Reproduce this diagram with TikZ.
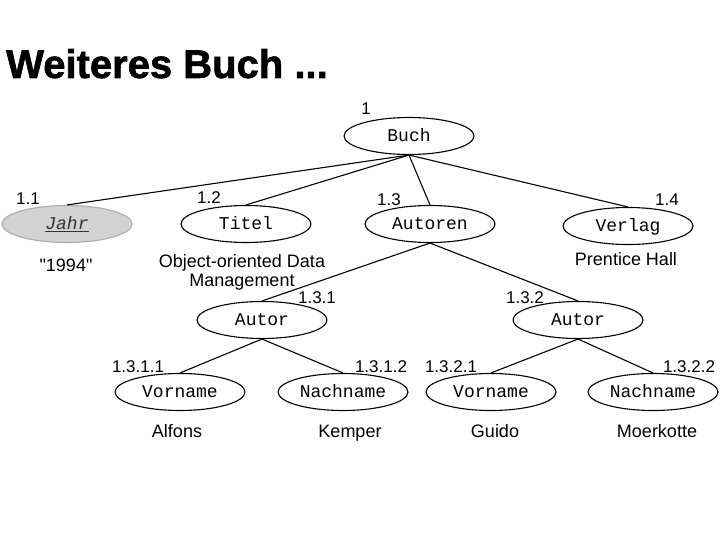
\documentclass[tikz,border=0pt]{standalone}
\usepackage{fontspec}
\setmainfont{Liberation Sans}
\setmonofont{Liberation Mono}
\newfontfamily\wertfont{Liberation Sans}
\usetikzlibrary{shapes.geometric}
\tikzset{
  elem/.style={ellipse, draw, line width=1.1pt, minimum width=130pt, minimum height=37pt, inner sep=0pt, text height=12pt, text depth=1pt, font=\fontsize{18}{20}\selectfont\ttfamily},
  attr/.style={elem, fill=gray!35, draw=gray!65, text=black!80},
  nr/.style={font=\fontsize{17}{19}\selectfont, anchor=base, inner sep=0pt},
  wert/.style={font=\fontsize{18}{19}\selectfont\wertfont, align=center, anchor=base, inner sep=0pt},
  kante/.style={line width=1.1pt},
}
\begin{document}
\begin{tikzpicture}[x=1pt, y=-1pt]
    \useasboundingbox (0,0) rectangle (720,540);
    \node[anchor=base west, inner sep=0pt, font=\fontsize{40}{44}\selectfont\bfseries\addfontfeature{FakeBold=1.5}] (titel) at (6,78) {Weiteres Buch ...};
    % Elemente
    \node[elem] (buch) at (409,136) {Buch};
    \node[attr] (jahr) at (67,224) {\underline{\textit{Jahr}}};
    \node[elem] (tit) at (246,224) {Titel};
    \node[elem] (autoren) at (430,224) {Autoren};
    \node[elem] (verlag) at (628,226) {Verlag};
    \node[elem] (autor1) at (262,320) {Autor};
    \node[elem] (autor2) at (578,320) {Autor};
    \node[elem] (vn1) at (180,392) {Vorname};
    \node[elem] (nn1) at (343,392) {Nachname};
    \node[elem] (vn2) at (491,392) {Vorname};
    \node[elem] (nn2) at (653,392) {Nachname};
    % Kanten
    \draw[kante] (buch.south) -- (jahr.north);
    \draw[kante] (buch.south) -- (tit.north);
    \draw[kante] (buch.south) -- (autoren.north);
    \draw[kante] (buch.south) -- (verlag.north);
    \draw[kante] (autoren.south) -- (autor1.north);
    \draw[kante] (autoren.south) -- (autor2.north);
    \draw[kante] (autor1.south) -- (vn1.north);
    \draw[kante] (autor1.south) -- (nn1.north);
    \draw[kante] (autor2.south) -- (vn2.north);
    \draw[kante] (autor2.south) -- (nn2.north);
    % Nummern
    \node[nr] (n1) at (366,115) {1};
    \node[nr] (n11) at (28,205) {1.1};
    \node[nr] (n12) at (209,204) {1.2};
    \node[nr] (n13) at (389,206) {1.3};
    \node[nr] (n14) at (667,206) {1.4};
    \node[nr] (n131) at (317,303) {1.3.1};
    \node[nr] (n132) at (525,303) {1.3.2};
    \node[nr] (n1311) at (138,372) {1.3.1.1};
    \node[nr] (n1312) at (381,372) {1.3.1.2};
    \node[nr] (n1321) at (451,372) {1.3.2.1};
    \node[nr] (n1322) at (689,372) {1.3.2.2};
    % Werte
    \node[wert] (w1) at (66,271) {"1994"};
    \node[wert] (w2) at (242,286) {Object-oriented Data\\Management};
    \node[wert] (w3) at (626,265) {Prentice Hall};
    \node[wert] (w4) at (177,437) {Alfons};
    \node[wert] (w5) at (350,437) {Kemper};
    \node[wert] (w6) at (495,437) {Guido};
    \node[wert] (w7) at (657,437) {Moerkotte};
\end{tikzpicture}
\end{document}
